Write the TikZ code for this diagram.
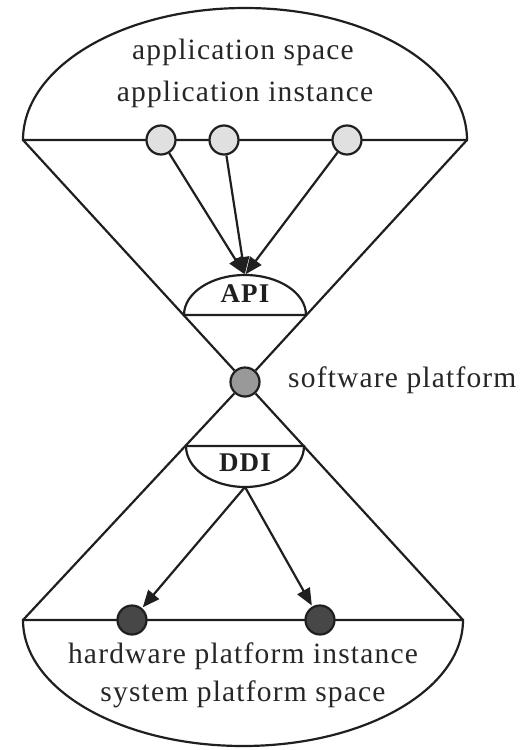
\documentclass[tikz,border=0pt]{standalone}
\usepackage{fontspec}
\setmainfont[LetterSpace=4]{Liberation Serif}
\usetikzlibrary{arrows.meta}
\tikzset{
  ln/.style={line width=2.2pt, black!88},
  inst/.style={circle, draw=black!88, line width=2.2pt, minimum size=29pt, inner sep=0pt},
  appinst/.style={inst, fill=black!12},
  hwinst/.style={inst, fill=black!72},
  swinst/.style={inst, fill=black!40},
  lbl/.style={font=\fontsize{29.5}{35}\selectfont, text=black!85, inner sep=0pt, anchor=base},
  ifc/.style={font=\bfseries\fontsize{27}{30}\selectfont, text=black!88, inner sep=0pt, anchor=base},
  arr/.style={ln, -{Triangle[length=17pt,width=14pt]}, shorten >=1pt}
}
\begin{document}
\begin{tikzpicture}[x=1pt,y=-1pt]
\useasboundingbox (0,0) rectangle (532,750);
% top half ellipse (application space)
\coordinate (TL) at (23,140);
\coordinate (TR) at (467,140);
\coordinate (BL) at (23,620);
\coordinate (BR) at (463,620);
\draw[ln] (TL) arc[start angle=180, end angle=360, x radius=222, y radius=132] -- cycle;
% bottom half ellipse (system platform space)
\draw[ln] (BL) arc[start angle=180, end angle=0, x radius=220, y radius=126] -- cycle;
% software platform
\node[swinst] (sw) at (245,382) {};
\draw[ln] (TL) -- (sw) -- (BR);
\draw[ln] (TR) -- (sw) -- (BL);
% API
\coordinate (apiL) at (184,315);
\coordinate (apiR) at (306,315);
\coordinate (apitop) at (245,275);
\draw[ln] (apiL) arc[start angle=180, end angle=360, x radius=61, y radius=40] -- cycle;
\node[ifc] (api) at (245,302) {API};
% DDI
\coordinate (ddiL) at (186,446);
\coordinate (ddiR) at (304,446);
\coordinate (ddibot) at (245,487);
\draw[ln] (ddiL) arc[start angle=180, end angle=0, x radius=59, y radius=41] -- cycle;
\node[ifc] (ddi) at (245,471) {DDI};
% application instances
\node[appinst] (a1) at (161,140) {};
\node[appinst] (a2) at (224,140) {};
\node[appinst] (a3) at (347,140) {};
\draw[arr] (a1) -- (apitop);
\draw[arr] (a2) -- (apitop);
\draw[arr] (a3) -- (apitop);
% hardware platform instances
\node[hwinst] (h1) at (132,620) {};
\node[hwinst] (h2) at (320,620) {};
\draw[arr] (ddibot) -- (h1);
\draw[arr] (ddibot) -- (h2);
% labels
\node[lbl] (t1) at (243,59) {application space};
\node[lbl] (t2) at (245,101) {application instance};
\node[lbl] (t3) at (243,663) {hardware platform instance};
\node[lbl] (t4) at (243,701) {system platform space};
\node[lbl, anchor=base west] (t5) at (288,387) {software platform};
\end{tikzpicture}
\end{document}
